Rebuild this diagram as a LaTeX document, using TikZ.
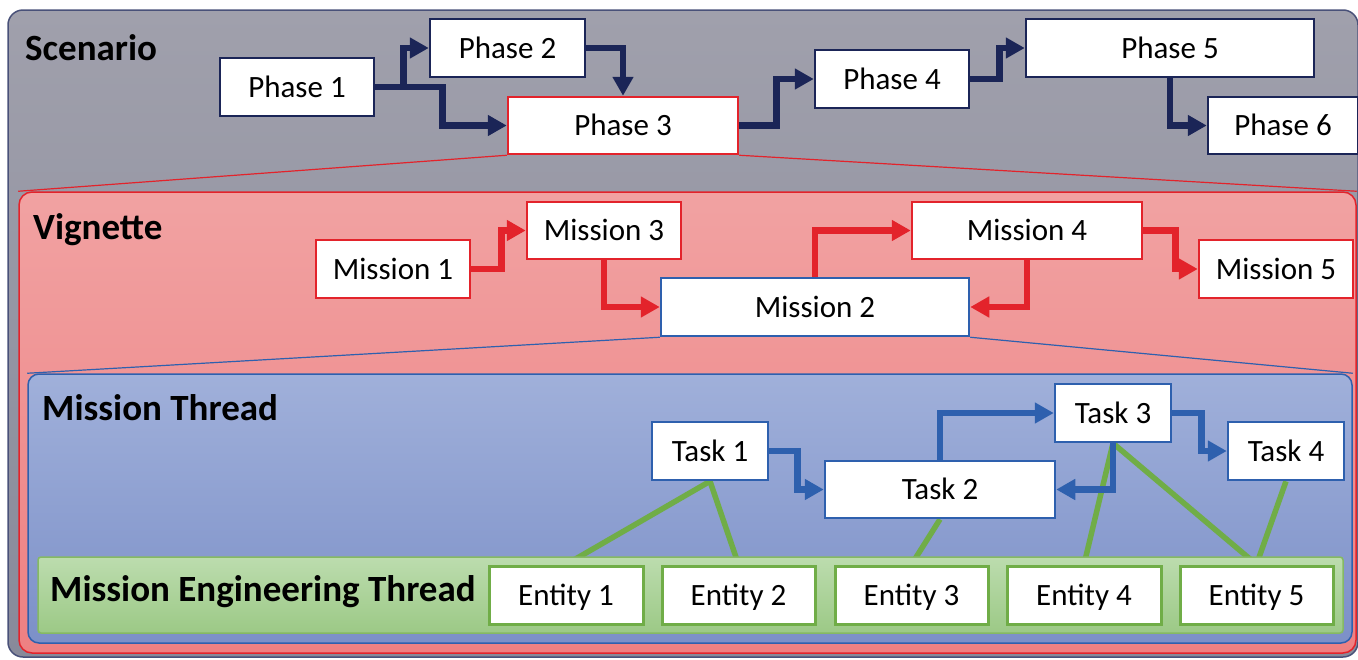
\documentclass[tikz,border=0pt]{standalone}
\usepackage{fontspec}
\setmainfont{Carlito}
\usetikzlibrary{arrows.meta}
\pgfdeclarelayer{back}
\pgfdeclarelayer{mid}
\pgfsetlayers{back,mid,main}
\definecolor{navy}{HTML}{1B2557}
\definecolor{mred}{HTML}{E3232B}
\definecolor{mblue}{HTML}{2E60AE}
\definecolor{mgreen}{HTML}{70AD47}
\begin{document}
\begin{tikzpicture}[x=1pt,y=-1pt,
  box/.style={draw, fill=white, inner sep=0pt, line width=2.5pt, text height=20pt, text depth=0pt,
    font=\fontsize{31}{36}\selectfont},
  phasebox/.style={box, draw=navy},
  missionbox/.style={box, draw=mred},
  taskbox/.style={box, draw=mblue},
  entitybox/.style={box, draw=mgreen, line width=3pt},
  frame/.style={draw, inner sep=0pt, line width=1.5pt},
  title/.style={anchor=base west, inner sep=0pt, font=\fontsize{37}{40}\selectfont\bfseries},
  arr/.style={line width=6.5pt, -{Triangle[length=19pt,width=20pt]}},
  navyarr/.style={arr, draw=navy},
  redarr/.style={arr, draw=mred},
  bluearr/.style={arr, draw=mblue},
  greenline/.style={draw=mgreen, line width=5.5pt},
  zoomline/.style={line width=1.2pt}
]
\useasboundingbox (0,0) rectangle (1358,659);

\begin{pgfonlayer}{back}
\node[frame, draw=navy!80, rounded corners=15pt, top color={rgb,255:red,160;green,160;blue,172}, bottom color={rgb,255:red,136;green,138;blue,154},
  minimum width=1350, minimum height=647] (scen) at (683,333.5) {};
\node[frame, draw=mred, rounded corners=13pt, top color={rgb,255:red,241;green,162;blue,162}, bottom color={rgb,255:red,238;green,128;blue,130},
  minimum width=1337, minimum height=461] (vig) at (687.5,422.5) {};
\node[frame, draw=mblue, rounded corners=11pt, top color={rgb,255:red,160;green,176;blue,218}, bottom color={rgb,255:red,124;green,144;blue,200},
  minimum width=1324, minimum height=269] (mt) at (690,508.5) {};
\end{pgfonlayer}

% titles
\node[title] (tscen) at (25,60) {Scenario};
\node[title] (tvig) at (33,239) {Vignette};
\node[title] (tmt) at (42,420) {Mission Thread};

% phases
\node[phasebox, minimum width=154, minimum height=58] (p1) at (297,87) {Phase 1};
\node[phasebox, minimum width=155, minimum height=58] (p2) at (507.5,48) {Phase 2};
\node[box, draw=mred, minimum width=230, minimum height=57] (p3) at (623,125.5) {Phase 3};
\node[phasebox, minimum width=154, minimum height=58] (p4) at (892,79) {Phase 4};
\node[phasebox, minimum width=288, minimum height=58] (p5) at (1170,48) {Phase 5};
\node[phasebox, minimum width=150, minimum height=57] (p6) at (1283,125.5) {Phase 6};

\draw[navyarr] (p1.east) -- ++(28,0) |- (p2.west);
\draw[navyarr] (p1.east) -- ++(67,0) |- (p3.west);
\draw[navyarr] (p2.east) -| (p3.north);
\draw[navyarr] (p3.east) -- ++(37,0) |- (p4.west);
\draw[navyarr] (p4.east) -- ++(29,0) |- (p5.west);
\draw[navyarr] (p5.south) |- (p6.west);

% missions
\node[missionbox, minimum width=154, minimum height=58] (m1) at (393,269) {Mission 1};
\node[missionbox, minimum width=154, minimum height=57] (m3) at (604,230.5) {Mission 3};
\node[box, draw=mblue, minimum width=308, minimum height=58] (m2) at (815,307) {Mission 2};
\node[missionbox, minimum width=230, minimum height=57] (m4) at (1027,230.5) {Mission 4};
\node[missionbox, minimum width=154, minimum height=58] (m5) at (1276,269) {Mission 5};

\draw[redarr] (m1.east) -- ++(30,0) |- (m3.west);
\draw[redarr] (m3.south) |- (m2.west);
\draw[redarr] (m2.north) |- (m4.west);
\draw[redarr] (m4.south) |- (m2.east);
\draw[redarr] (m4.east) -- ++(32,0) |- (m5.west);

% tasks
\node[taskbox, minimum width=116, minimum height=58] (t1) at (710,451) {Task 1};
\node[taskbox, minimum width=230, minimum height=57] (t2) at (940,489.5) {Task 2};
\node[taskbox, minimum width=116, minimum height=58] (t3) at (1113,413) {Task 3};
\node[taskbox, minimum width=116, minimum height=58] (t4) at (1286,451) {Task 4};

\draw[bluearr] (t1.east) -- ++(28,0) |- (t2.west);
\draw[bluearr] (t2.north) |- (t3.west);
\draw[bluearr] (t3.south) |- (t2.east);
\draw[bluearr] (t3.east) -- ++(29,0) |- (t4.west);

% mission engineering thread band
\node[frame, draw=mgreen!85, rounded corners=3pt, top color={rgb,255:red,188;green,220;blue,174}, bottom color={rgb,255:red,156;green,201;blue,134},
  minimum width=1305, minimum height=76] (met) at (690.5,595) {};
\node[title] (tmet) at (50,601) {Mission Engineering Thread};

\node[entitybox, minimum width=154, minimum height=58] (e1) at (566,595) {Entity 1};
\node[entitybox, minimum width=153, minimum height=58] (e2) at (738.5,595) {Entity 2};
\node[entitybox, minimum width=153, minimum height=58] (e3) at (911.5,595) {Entity 3};
\node[entitybox, minimum width=154, minimum height=58] (e4) at (1084,595) {Entity 4};
\node[entitybox, minimum width=153, minimum height=58] (e5) at (1256.5,595) {Entity 5};

\begin{pgfonlayer}{mid}
\draw[zoomline, draw=mred] (p3.south west) -- (vig.north west);
\draw[zoomline, draw=mred] (p3.south east) -- (vig.north east);
\draw[zoomline, draw=mblue] (m2.south west) -- (mt.north west);
\draw[zoomline, draw=mblue] (m2.south east) -- (mt.north east);
\draw[greenline] (t1.south) -- (e1.north);
\draw[greenline] (t1.south) -- (e2.north);
\draw[greenline] (t2.south) -- (e3.north);
\draw[greenline] (t3.south) -- (e4.north);
\draw[greenline] (t3.south) -- (e5.north);
\draw[greenline] (t4.south) -- (e5.north);
\end{pgfonlayer}
\end{tikzpicture}
\end{document}
